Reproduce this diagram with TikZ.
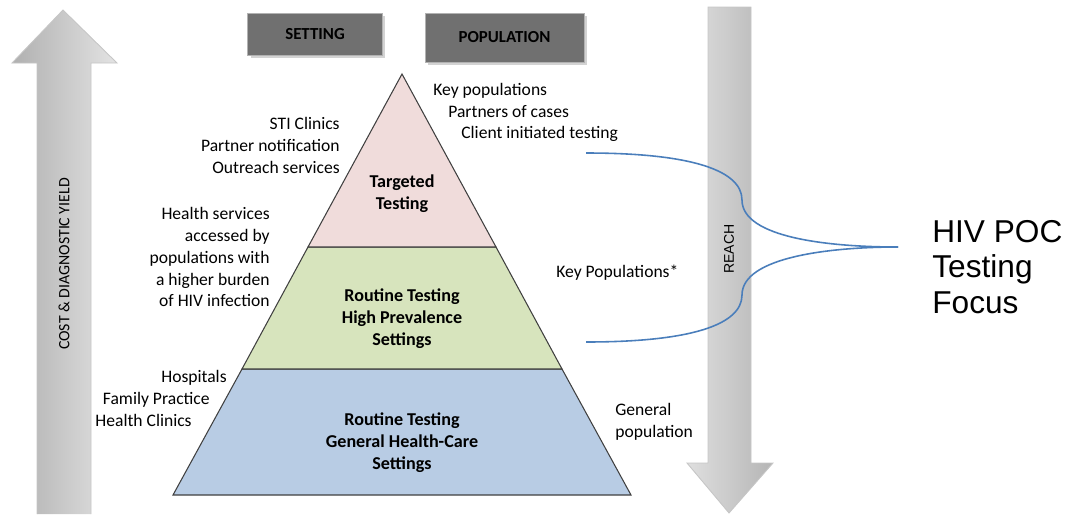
\documentclass[tikz,border=0pt]{standalone}
\usepackage{fontspec}
\setmainfont{Carlito}
\newfontfamily\arialfont{Liberation Sans}
\usepackage{tikz}
\usetikzlibrary{positioning}
\usetikzlibrary{shadows}
\definecolor{tierpink}{HTML}{F0DCDB}
\definecolor{tiergreen}{HTML}{D7E4BD}
\definecolor{tierblue}{HTML}{B8CCE4}
\definecolor{boxgray}{HTML}{707070}
\definecolor{focusblue}{HTML}{4A7EBB}
\tikzstyle{sidetext} = [font=\fontsize{10}{12.5}\selectfont, inner sep=0pt]
\tikzstyle{tiertext} = [font=\bfseries\fontsize{10.3}{12.5}\selectfont, align=center, inner sep=0pt]
\tikzstyle{headbox} = [fill=boxgray, draw=gray!60, drop shadow={shadow xshift=0.06cm, shadow yshift=-0.06cm, opacity=0.35}, font=\bfseries\fontsize{9.6}{11}\selectfont]
\tikzstyle{tier} = [draw=black!75, line width=0.6pt]
\tikzstyle{bigarrow} = [draw=gray!45, line width=0.5pt]
\tikzstyle{focusline} = [draw=focusblue, line width=0.9pt]

\begin{document}
\begin{tikzpicture}[x=0.02cm, y=-0.02cm]
	\useasboundingbox (0,0) rectangle (1068,514);
	
	%Coordinates
	\coordinate (apex) at (402,74);
	\coordinate (baseL) at (173,495);
	\coordinate (baseR) at (631,495);
	\coordinate (cutAL) at (308,247);
	\coordinate (cutAR) at (496,247);
	\coordinate (cutBL) at (242,369);
	\coordinate (cutBR) at (562,369);
	\coordinate (topStart) at (586,153);
	\coordinate (botStart) at (586,342);
	\coordinate (tip) at (898,247);
	
	%Arrows
	\shade[bigarrow, left color=gray!62, right color=gray!22]
		(37,514) -- (37,63) -- (12,63) -- (63,10) -- (117,63) -- (91,63) -- (91,514);
	\shade[bigarrow, left color=gray!25, right color=gray!58]
		(708,7) -- (751,7) -- (751,463) -- (773,463) -- (729,513) -- (687,463) -- (708,463) -- cycle;
	
	%Pyramid
	\filldraw[tier, fill=tierblue] (cutBL) -- (cutBR) -- (baseR) -- (baseL) -- cycle;
	\filldraw[tier, fill=tiergreen] (cutAL) -- (cutAR) -- (cutBR) -- (cutBL) -- cycle;
	\filldraw[tier, fill=tierpink] (apex) -- (cutAR) -- (cutAL) -- cycle;
	
	%Nodes
	\node [headbox, minimum width=2.7cm, minimum height=0.84cm] (setting) at (315,34) {SETTING};
	\node [headbox, minimum width=3.18cm, minimum height=0.98cm] (population) at (504.5,37.5) {POPULATION};
	
	\node [sidetext, font=\fontsize{9}{11}\selectfont, rotate=90] (cost) at (64,264) {COST \& DIAGNOSTIC YIELD};
	\node [sidetext, font=\arialfont\fontsize{8}{10}\selectfont, rotate=90] (reach) at (729,249) {REACH};
	
	\node [tiertext] (targeted) at (402,194) {Targeted\\Testing};
	\node [tiertext] (highPrev) at (402,319) {Routine Testing\\High Prevalence\\Settings};
	\node [tiertext] (general) at (402,443) {Routine Testing\\General Health-Care\\Settings};
	
	\node [sidetext, align=right, anchor=east] (sti) at (340,145) {STI Clinics\\Partner notification\\Outreach services};
	\node [sidetext, align=right, anchor=east] (healthServ) at (270,257) {Health services\\accessed by\\populations with\\a higher burden\\of HIV infection};
	\node [sidetext, anchor=east] (hospitals) at (227,378) {Hospitals};
	\node [sidetext, anchor=east] (family) at (210,400) {Family Practice};
	\node [sidetext, anchor=east] (clinics) at (192,420) {Health Clinics};
	
	\node [sidetext, anchor=west] (keyPop) at (433,91) {Key populations};
	\node [sidetext, anchor=west] (partners) at (448,112) {Partners of cases};
	\node [sidetext, anchor=west] (client) at (461,134) {Client initiated testing};
	\node [sidetext, anchor=west] (keyPopStar) at (556,273) {Key Populations*};
	\node [sidetext, align=left, anchor=west] (genPop) at (615,422) {General\\population};
	
	\node [font=\arialfont\fontsize{18}{20}\selectfont, align=left, anchor=west, inner sep=0pt] (focus) at (932,267) {HIV POC\\Testing\\Focus};
	
	%Lines
	\draw[focusline] (topStart) .. controls (690,153) and (742,170) .. (742,200)
		.. controls (742,238) and (830,247) .. (tip);
	\draw[focusline] (botStart) .. controls (690,342) and (742,325) .. (742,295)
		.. controls (742,257) and (830,247) .. (tip);
	
\end{tikzpicture}
\end{document}
